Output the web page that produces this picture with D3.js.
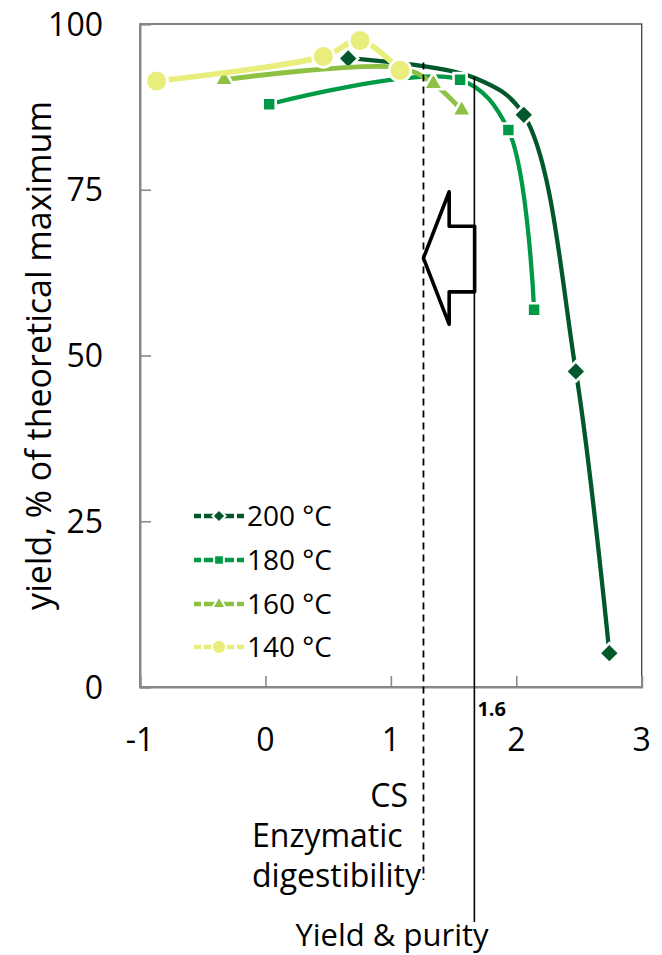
<!DOCTYPE html>
<html>
<head>
<meta charset="utf-8">
<script src="https://cdn.jsdelivr.net/npm/d3@7"></script>
<style>
  body { margin: 0; background: #fff; }
  text { font-family: "Open Sans", "Noto Sans", sans-serif; }
</style>
</head>
<body>
<svg id="chart" width="662" height="955"></svg>
<script>
// values
const SERIES = ["200 °C", "180 °C", "160 °C", "140 °C"];
const X_200 = [0.66, 1.665, 2.06, 2.475, 2.742];
const Y_200 = [94.8, 91.9, 86.3, 47.6, 5.1];
const X_180 = [0.03, 1.552, 1.937, 2.142];
const Y_180 = [87.9, 91.6, 84.0, 56.9];
const X_160 = [-0.33, 1.07, 1.339, 1.565];
const Y_160 = [91.6, 93.4, 91.0, 87.0];
const X_140 = [-0.867, 0.462, 0.754, 1.073];
const Y_140 = [91.4, 95.1, 97.5, 93.0];
// 200 °C point at the 1.6 line has no marker
const HIDDEN_200 = [1];

const X_TICKS = [-1, 0, 1, 2, 3];
const Y_TICKS = [0, 25, 50, 75, 100];

const CS_LIMIT = 1.26, CS_TOP = 94.2;
const YIELD_LIMIT = 1.666, YIELD_TOP = 92.0;
const YIELD_LABEL = "1.6";

// arrow outline (data units)
const ARROW_X = [1.26, 1.465, 1.465, 1.668, 1.668, 1.465, 1.465];
const ARROW_Y = [64.7, 74.7, 69.5, 69.5, 59.6, 59.6, 54.7];

const W = 662, H = 955;
const margin = {top: 24, right: 20.3, bottom: 268, left: 140};

const svg = d3.select("#chart");

let x = d3.scaleLinear().domain([-1, 3]).range([margin.left, W - margin.right]);
let y = d3.scaleLinear().domain([0, 100]).range([H - margin.bottom, margin.top]);

const colors = ["#00582b", "#009a46", "#8dc143", "#e8ed7c"];
const shapes = ["diamond", "square", "triangle", "circle"];
const lineW = [4.3, 4.3, 4.8, 5.6];

const allSeries = [
  {name: SERIES[0], xs: X_200, ys: Y_200, hidden: HIDDEN_200},
  {name: SERIES[1], xs: X_180, ys: Y_180, hidden: []},
  {name: SERIES[2], xs: X_160, ys: Y_160, hidden: []},
  {name: SERIES[3], xs: X_140, ys: Y_140, hidden: []}
].map((s, i) => ({
  ...s,
  color: colors[i], shape: shapes[i], width: lineW[i],
  points: s.xs.map((v, j) => ({x: v, y: s.ys[j], marker: !s.hidden.includes(j)}))
}));

// plot frame
svg.append("rect")
  .attr("x", x(-1)).attr("y", y(100))
  .attr("width", x(3) - x(-1)).attr("height", y(0) - y(100))
  .attr("fill", "none").attr("stroke", "#4d4d4d").attr("stroke-width", 1.4);

// axes, ticks inside
let xAxis = svg.append("g")
  .attr("transform", `translate(0,${y(0)})`)
  .call(d3.axisBottom(x).tickValues(X_TICKS).tickSize(-11).tickFormat(""));
let yAxis = svg.append("g")
  .attr("transform", `translate(${x(-1)},0)`)
  .call(d3.axisLeft(y).tickValues(Y_TICKS).tickSize(-11).tickFormat(""));
[xAxis, yAxis].forEach(a => {
  a.select(".domain").attr("stroke", "#898989").attr("stroke-width", 2);
  a.selectAll(".tick line").attr("stroke", "#898989").attr("stroke-width", 1.6);
});

svg.append("g").selectAll("text")
  .data(X_TICKS).enter().append("text")
  .attr("x", d => x(d)).attr("y", y(0) + 64)
  .attr("text-anchor", "middle").attr("font-size", 32)
  .text(d => d);

svg.append("g").selectAll("text")
  .data(Y_TICKS).enter().append("text")
  .attr("x", 103).attr("y", d => y(d) + 11.5)
  .attr("text-anchor", "end").attr("font-size", 32)
  .text(d => d);

svg.append("text")
  .attr("transform", `translate(51,${(y(0) + y(100)) / 2}) rotate(-90)`)
  .attr("text-anchor", "middle").attr("font-size", 34)
  .text("yield, % of theoretical maximum");

// markers
function drawMarker(g, shape, size, color, stroke) {
  let sym;
  if (shape == "diamond") {
    sym = d3.symbol().type(d3.symbolSquare).size(size)();
    g.append("path").attr("d", sym).attr("transform", "rotate(45)")
      .attr("fill", color).attr("stroke", "#fff").attr("stroke-width", stroke);
    return;
  }
  if (shape == "square") sym = d3.symbol().type(d3.symbolSquare).size(size)();
  if (shape == "triangle") sym = d3.symbol().type(d3.symbolTriangle).size(size)();
  if (shape == "circle") sym = d3.symbol().type(d3.symbolCircle).size(size)();
  g.append("path").attr("d", sym)
    .attr("fill", color).attr("stroke", "#fff").attr("stroke-width", stroke);
}

const markerSize = {diamond: 200, square: 170, triangle: 160, circle: 370};
const legendSize = {diamond: 85, square: 95, triangle: 80, circle: 160};

let line = d3.line()
  .x(d => x(d.x)).y(d => y(d.y))
  .curve(d3.curveCatmullRom.alpha(0.5));

allSeries.forEach(s => {
  let g = svg.append("g");
  g.append("path").datum(s.points)
    .attr("d", line)
    .attr("fill", "none").attr("stroke", s.color)
    .attr("stroke-width", s.width).attr("stroke-linecap", "round");
  s.points.filter(p => p.marker).forEach(p => {
    let m = g.append("g").attr("transform", `translate(${x(p.x)},${y(p.y)})`);
    drawMarker(m, s.shape, markerSize[s.shape], s.color, 2.6);
  });
});

// threshold lines
svg.append("line")
  .attr("x1", x(CS_LIMIT)).attr("x2", x(CS_LIMIT))
  .attr("y1", y(CS_TOP)).attr("y2", 880)
  .attr("stroke", "#000").attr("stroke-width", 1.8).attr("stroke-dasharray", "7,5");
svg.append("line")
  .attr("x1", x(YIELD_LIMIT)).attr("x2", x(YIELD_LIMIT))
  .attr("y1", y(YIELD_TOP)).attr("y2", 922)
  .attr("stroke", "#000").attr("stroke-width", 1.6);

// arrow
svg.append("polygon")
  .attr("points", ARROW_X.map((v, i) => [x(v), y(ARROW_Y[i])].join(",")).join(" "))
  .attr("fill", "#fff").attr("stroke", "#000")
  .attr("stroke-width", 3.6).attr("stroke-linejoin", "round");

svg.append("text")
  .attr("x", x(YIELD_LIMIT) + 3).attr("y", y(0) + 29)
  .attr("font-size", 20).attr("font-weight", "bold")
  .text(YIELD_LABEL);

svg.append("text")
  .attr("x", 408).attr("y", 807)
  .attr("text-anchor", "end").attr("font-size", 32).text("CS");
svg.append("text")
  .attr("x", 252).attr("y", 847)
  .attr("font-size", 32).text("Enzymatic");
svg.append("text")
  .attr("x", 252).attr("y", 887)
  .attr("font-size", 32).text("digestibility");
svg.append("text")
  .attr("x", 392).attr("y", 946)
  .attr("text-anchor", "middle").attr("font-size", 31).text("Yield & purity");

// legend
const legendY = [516, 560, 604, 647];
let legend = svg.append("g");
allSeries.forEach((s, i) => {
  let g = legend.append("g").attr("transform", `translate(219,${legendY[i]})`);
  [-1, 1].forEach(dir => {
    g.append("line")
      .attr("x1", dir * 25).attr("x2", 0).attr("y1", 0).attr("y2", 0)
      .attr("stroke", s.color).attr("stroke-width", 4.5)
      .attr("stroke-dasharray", "7,3,30");
  });
  drawMarker(g, s.shape, legendSize[s.shape], s.color, 2);
  g.append("text")
    .attr("x", 28).attr("y", 10)
    .attr("font-size", 28).text(s.name);
});
</script>
</body>
</html>
